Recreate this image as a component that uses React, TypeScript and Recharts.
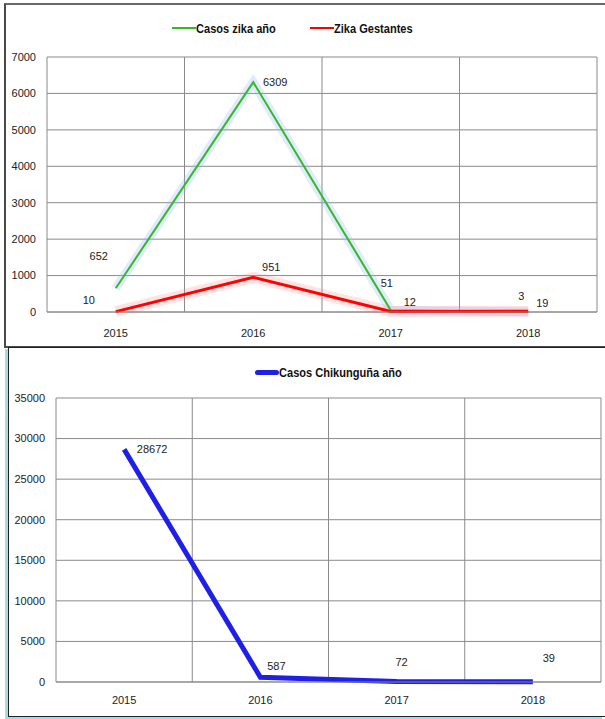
import React from "react";
import {
  LineChart,
  Line,
  XAxis,
  YAxis,
  CartesianGrid,
  LabelList,
} from "recharts";

const years = ["2015", "2016", "2017", "2018"];
const zikaCases = [652, 6309, 51, 3];
const zikaPregnant = [10, 951, 12, 19];
const chikCases = [28672, 587, 72, 39];
const zikaTicks = [0, 1000, 2000, 3000, 4000, 5000, 6000, 7000];
const chikTicks = [0, 5000, 10000, 15000, 20000, 25000, 30000, 35000];

const zikaData = years.map((year, i) => ({
  year,
  zika: zikaCases[i],
  gestantes: zikaPregnant[i],
}));
const chikData = years.map((year, i) => ({ year, chik: chikCases[i] }));

const FONT = "'Liberation Sans', Arial, sans-serif";

// label nudges, Excel-style placement
const zikaOffsets = [
  [-17, -32],
  [22, 0],
  [-4, -27],
  [-7, -16],
];
const gestOffsets = [
  [-27, -12],
  [18, -10],
  [19, -10],
  [14, -8],
];
const chikOffsets = [
  [28, 0],
  [16, -11],
  [5, -19],
  [16, -24],
];

const makeLabel = (offsets: number[][]) => (props: any) => {
  const { x, y, value, index } = props;
  const [dx, dy] = offsets[index] || [0, 0];
  return (
    <text
      x={x + dx}
      y={y + dy}
      textAnchor="middle"
      dominantBaseline="central"
      fontSize={11}
      fontFamily={FONT}
      fill="#222"
    >
      {value}
    </text>
  );
};

const bandGrid = ({ offset }: any) =>
  [0, 1, 2, 3, 4].map((i) => offset.left + (offset.width * i) / 4);

const tickStyle = { fontSize: 11, fontFamily: FONT, fill: "#222" };

function LegendItem({
  left,
  top,
  color,
  label,
  thick,
}: {
  left: number;
  top: number;
  color: string;
  label: string;
  thick?: boolean;
}) {
  return (
    <div
      style={{
        position: "absolute",
        left,
        top,
        height: 18,
        display: "flex",
        alignItems: "center",
        whiteSpace: "nowrap",
      }}
    >
      <span
        style={{
          display: "inline-block",
          width: 24,
          height: thick ? 5 : 2.5,
          borderRadius: thick ? 3 : 0,
          background: color,
        }}
      />
      <span
        style={{
          display: "inline-block",
          fontWeight: "bold",
          fontSize: 13,
          fontFamily: FONT,
          color: "#111",
          transform: "scaleX(0.85)",
          transformOrigin: "left center",
        }}
      >
        {label}
      </span>
    </div>
  );
}

export default function App() {
  return (
    <div
      style={{
        position: "absolute",
        left: 0,
        top: 0,
        width: 605,
        height: 719,
        overflow: "hidden",
        background: "#fff",
      }}
    >
      {/* top box */}
      <div
        style={{
          position: "absolute",
          left: 4,
          top: 3,
          width: 601,
          height: 345,
          boxSizing: "border-box",
          borderTop: "2px solid #6a6a6a",
          borderLeft: "2px solid #4a4a4a",
          borderBottom: "2px solid #4a4a4a",
        }}
      />
      <LegendItem left={172} top={19} color="#33bb22" label="Casos zika año" />
      <LegendItem left={310} top={19} color="#ff0000" label="Zika Gestantes" />
      <div style={{ position: "absolute", left: 0, top: 0 }}>
        <LineChart
          width={605}
          height={346}
          data={zikaData}
          margin={{ top: 57, right: 8, bottom: 0, left: 0 }}
        >
          <CartesianGrid stroke="#8a8a8a" verticalCoordinatesGenerator={bandGrid} />
          <XAxis
            dataKey="year"
            scale="band"
            height={34}
            axisLine={{ stroke: "#8a8a8a" }}
            tickLine={false}
            tickMargin={11}
            tick={tickStyle}
          />
          <YAxis
            width={47}
            domain={[0, 7000]}
            ticks={zikaTicks}
            axisLine={false}
            tickLine={false}
            tickMargin={5}
            tick={tickStyle}
            interval={0}
          />
          {/* soft halo behind each line */}
          <Line
            dataKey="zika"
            stroke="#9fb8ff"
            strokeOpacity={0.3}
            strokeWidth={9}
            dot={false}
            activeDot={false}
            isAnimationActive={false}
          />
          <Line
            dataKey="gestantes"
            stroke="#ff7070"
            strokeOpacity={0.2}
            strokeWidth={11}
            dot={false}
            activeDot={false}
            isAnimationActive={false}
          />
          <Line
            dataKey="zika"
            stroke="#33bb22"
            strokeWidth={2}
            dot={false}
            isAnimationActive={false}
          >
            <LabelList dataKey="zika" content={makeLabel(zikaOffsets)} />
          </Line>
          <Line
            dataKey="gestantes"
            stroke="#ff0000"
            strokeWidth={3}
            dot={false}
            isAnimationActive={false}
          >
            <LabelList dataKey="gestantes" content={makeLabel(gestOffsets)} />
          </Line>
        </LineChart>
      </div>

      {/* bottom box */}
      <div
        style={{
          position: "absolute",
          left: 8,
          top: 347,
          width: 597,
          height: 370,
          boxSizing: "border-box",
          borderTop: "1.5px solid #222",
          borderLeft: "1.5px solid #222",
          borderBottom: "1.5px solid #222",
          boxShadow: "-3px 2px 0 #a6dce4",
        }}
      />
      <LegendItem left={255} top={363} color="#1f1fe6" label="Casos Chikunguña año" thick />
      <div style={{ position: "absolute", left: 0, top: 347 }}>
        <LineChart
          width={605}
          height={372}
          data={chikData}
          margin={{ top: 51, right: 4, bottom: 0, left: 0 }}
        >
          <CartesianGrid stroke="#8a8a8a" verticalCoordinatesGenerator={bandGrid} />
          <XAxis
            dataKey="year"
            scale="band"
            height={37}
            axisLine={{ stroke: "#8a8a8a" }}
            tickLine={false}
            tickMargin={8}
            tick={tickStyle}
          />
          <YAxis
            width={56}
            domain={[0, 35000]}
            ticks={chikTicks}
            axisLine={false}
            tickLine={false}
            tickMargin={5}
            tick={tickStyle}
            interval={0}
          />
          <Line
            dataKey="chik"
            stroke="#1f1fe6"
            strokeWidth={5}
            dot={false}
            isAnimationActive={false}
          >
            <LabelList dataKey="chik" content={makeLabel(chikOffsets)} />
          </Line>
        </LineChart>
      </div>
    </div>
  );
}
